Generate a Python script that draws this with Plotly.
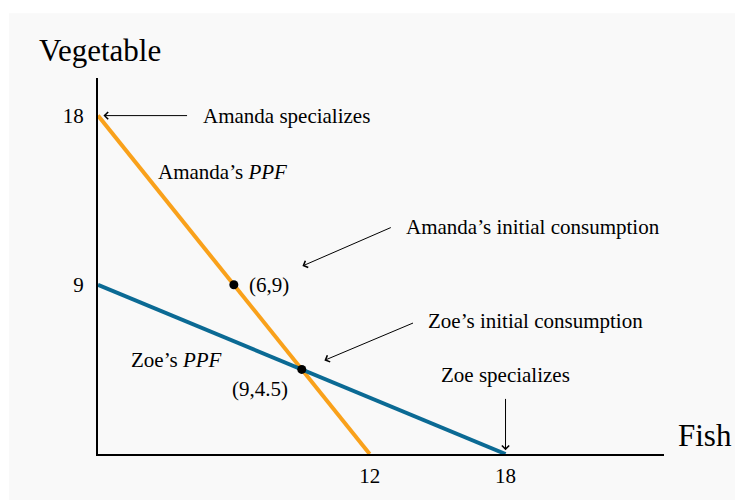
import plotly.graph_objects as go

# Data
amanda_x = [0, 12]
amanda_y = [18, 0]
zoe_x = [0, 18]
zoe_y = [9, 0]
points_x = [6, 9]
points_y = [9, 4.5]
x_tickvals = [12, 18]
y_tickvals = [9, 18]

ORANGE = "#F9A11B"
BLUE = "#0B6A94"
FONT = "Liberation Serif, Times New Roman, serif"

W, H = 735, 492
L, R, T, B = 90, 79, 70, 44
PW, PH = W - L - R, H - T - B
OFF = 8  # page body margin


def px_x(px):
    return (px - OFF - L) / PW


def px_y(py):
    return (H - B - (py - OFF)) / PH


fig = go.Figure()
fig.add_trace(go.Scatter(x=amanda_x, y=amanda_y, mode="lines",
                         line=dict(color=ORANGE, width=4), hoverinfo="skip"))
fig.add_trace(go.Scatter(x=zoe_x, y=zoe_y, mode="lines",
                         line=dict(color=BLUE, width=4), hoverinfo="skip"))
fig.add_trace(go.Scatter(x=points_x, y=points_y, mode="markers",
                         marker=dict(color="black", size=9), hoverinfo="skip"))

tf = dict(family=FONT, size=21, color="black")
big = dict(family=FONT, size=31, color="black")

annotations = [
    dict(text="Vegetable", xref="paper", yref="paper", x=px_x(37), y=px_y(50),
         xanchor="left", yanchor="middle", showarrow=False, font=big),
    dict(text="Fish", xref="paper", yref="paper", x=px_x(676), y=px_y(437),
         xanchor="left", yanchor="middle", showarrow=False, font=big),
    dict(text="Amanda specializes", x=4.53, y=18, xanchor="left", yanchor="middle", showarrow=False, font=tf),
    dict(text="Amanda’s <i>PPF</i>", x=2.54, y=15.0, xanchor="left", yanchor="middle", showarrow=False, font=tf),
    dict(text="Amanda’s initial consumption", x=13.53, y=12.08, xanchor="left", yanchor="middle", showarrow=False, font=tf),
    dict(text="(6,9)", x=6.56, y=9, xanchor="left", yanchor="middle", showarrow=False, font=tf),
    dict(text="Zoe’s initial consumption", x=14.5, y=7.1, xanchor="left", yanchor="middle", showarrow=False, font=tf),
    dict(text="(9,4.5)", x=8.5, y=3.44, xanchor="right", yanchor="middle", showarrow=False, font=tf),
    dict(text="Zoe’s <i>PPF</i>", x=1.39, y=4.98, xanchor="left", yanchor="middle", showarrow=False, font=tf),
    dict(text="Zoe specializes", x=18, y=4.18, xanchor="center", yanchor="middle", showarrow=False, font=tf),
]

arrows = [
    ((0.24, 18), (4.0, 18)),
    ((9.03, 10.0), (13.0, 12.08)),
    ((10.0, 4.98), (13.98, 7.0)),
    ((18, 0.2), (18, 3.01)),
]
for (hx, hy), (tx, ty) in arrows:
    annotations.append(dict(x=hx, y=hy, ax=tx, ay=ty, xref="x", yref="y", axref="x", ayref="y",
                            text="", showarrow=True, arrowhead=4, arrowsize=1.4, arrowwidth=1,
                            arrowcolor="black", standoff=0, startstandoff=0))

fig.update_layout(
    width=W, height=H,
    margin=dict(l=L, r=R, t=T, b=B),
    paper_bgcolor="white",
    plot_bgcolor="rgba(0,0,0,0)",
    showlegend=False,
    font=dict(family=FONT, size=21, color="black"),
    annotations=annotations,
    shapes=[dict(type="rect", xref="paper", yref="paper", layer="below",
                 x0=px_x(9), x1=px_x(760),
                 y0=px_y(520), y1=px_y(13),
                 fillcolor="#F9F9F9", line=dict(width=0))],
    xaxis=dict(range=[0, 25], showgrid=False, zeroline=False, showline=True, linecolor="black",
               linewidth=2, tickvals=x_tickvals, ticks="", ticklabelstandoff=2,
               tickfont=dict(family=FONT, size=21, color="black"), fixedrange=True),
    yaxis=dict(range=[0, 20], showgrid=False, zeroline=False, showline=True, linecolor="black",
               linewidth=2, tickvals=y_tickvals, ticks="", ticklabelstandoff=8,
               tickfont=dict(family=FONT, size=21, color="black"), fixedrange=True),
)

fig.write_html("out.html")
